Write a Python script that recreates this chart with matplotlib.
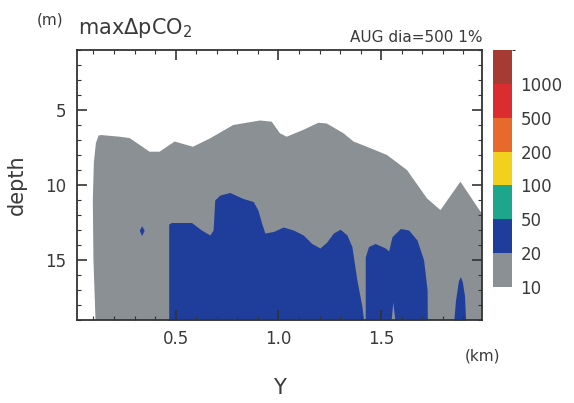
import numpy as np
import matplotlib
matplotlib.use("Agg")
import matplotlib.pyplot as plt
from matplotlib.colors import ListedColormap, BoundaryNorm
from matplotlib.cm import ScalarMappable
from matplotlib.ticker import MultipleLocator

# ---- data ----
# colour levels of max dpCO2
levels = [10, 20, 50, 100, 200, 500, 1000, 2000]
level_colors = ["#8b9095", "#1f3e9c", "#1ca68c", "#f2d01e", "#e76a2c", "#db2c30", "#a63b33"]
cbar_ticks = [10, 20, 50, 100, 200, 500, 1000]

# gray (10-20) region outline: left edge (bottom -> top) then top boundary
gray_left_y = [0.110, 0.100, 0.097, 0.102, 0.112, 0.125]
gray_left_d = [19.0, 15.0, 11.0, 8.5, 7.2, 6.7]
gray_top_y = [0.137, 0.227, 0.276, 0.373, 0.422, 0.495, 0.584, 0.666, 0.780, 0.910,
              0.967, 1.007, 1.040, 1.120, 1.194, 1.235, 1.316, 1.365, 1.430, 1.528,
              1.625, 1.723, 1.788, 1.885, 1.983, 1.990]
gray_top_d = [6.67, 6.78, 6.87, 7.78, 7.78, 7.10, 7.45, 6.90, 6.00, 5.70,
              5.78, 6.55, 6.78, 6.33, 5.85, 5.90, 6.55, 7.10, 7.45, 8.00,
              9.00, 10.90, 11.67, 9.78, 11.78, 11.90]

# blue (20-50) blobs: top depth vs Y, extending to bottom
blue1_y = [0.466, 0.479, 0.577, 0.625, 0.666, 0.682, 0.690, 0.715, 0.763, 0.828,
           0.877, 0.900, 0.918, 0.934, 0.975, 1.023, 1.072, 1.120, 1.162, 1.202,
           1.235, 1.267, 1.300, 1.333, 1.357, 1.381, 1.406, 1.414]
blue1_d = [12.6, 12.5, 12.5, 13.0, 13.33, 13.0, 11.0, 10.67, 10.5, 10.9,
           11.1, 11.67, 12.55, 13.2, 13.1, 12.8, 13.0, 13.33, 13.9, 14.2,
           13.8, 13.2, 12.95, 13.33, 14.1, 16.3, 18.1, 19.0]
blue2_y = [1.422, 1.438, 1.470, 1.520, 1.536, 1.552, 1.593, 1.633, 1.674, 1.706, 1.723, 1.724]
blue2_d = [14.8, 14.1, 13.9, 14.2, 14.4, 13.45, 12.9, 13.0, 13.67, 15.0, 17.0, 19.0]
blue3_y = [1.853, 1.861, 1.875, 1.885, 1.895, 1.905, 1.910]
blue3_d = [19.0, 17.7, 16.4, 16.1, 16.5, 17.4, 19.0]
# small blue spot and a gray notch inside blob 2
spot_y = [0.325, 0.337, 0.349, 0.337]
spot_d = [13.05, 12.75, 13.05, 13.4]
notch_y = [1.548, 1.556, 1.566]
notch_d = [19.0, 17.8, 19.0]

x_ticks = [0.5, 1.0, 1.5]
y_ticks = [5, 10, 15]
x_lim = (0.02, 1.99)
y_lim = (19, 1)

# ---- figure ----
plt.rcParams['font.family'] = ['DejaVu Sans']
txt = "#3a3a3a"
fig = plt.figure(figsize=(5.74, 4.03), dpi=100)
ax = fig.add_axes([77/574, 1 - 320/403, 405/574, 270/403])

gray_poly_y = gray_left_y + gray_top_y + [x_lim[1]]
gray_poly_d = gray_left_d + gray_top_d + [19.0]
ax.fill(gray_poly_y, gray_poly_d, color=level_colors[0], lw=0)
bottom = y_lim[0]
for yy, dd in [(blue1_y, blue1_d), (blue2_y, blue2_d), (blue3_y, blue3_d)]:
    ax.fill_between(yy, dd, bottom, color=level_colors[1], lw=0)
ax.fill(spot_y, spot_d, color=level_colors[1], lw=0)
ax.fill_between(notch_y, notch_d, bottom, color=level_colors[0], lw=0)

ax.set_xlim(*x_lim)
ax.set_ylim(*y_lim)
ax.set_xticks(x_ticks)
ax.set_xticklabels([f"{v:.1f}" for v in x_ticks])
ax.set_yticks(y_ticks)
ax.xaxis.set_minor_locator(MultipleLocator(0.1))
ax.yaxis.set_minor_locator(MultipleLocator(1))
ax.tick_params(which='both', direction='in', top=True, right=True, colors="#333333",
               labelcolor=txt, labelsize=12)
ax.tick_params(which='major', length=7, width=1.2)
ax.tick_params(which='minor', length=3, width=0.8)
ax.tick_params(axis='y', pad=8)
ax.tick_params(axis='x', pad=7)
for s in ax.spines.values():
    s.set_color("#333333")
    s.set_linewidth(1.3)

fig.text(17/574, 1 - 185/403, "depth", rotation=90, ha='center', va='center',
         fontsize=15, color=txt)
fig.text(279/574, 1 - 388/403, "Y", ha='center', va='center', fontsize=15, color=txt)
fig.text(482/574, 1 - 356/403, "(km)", ha='center', va='center', fontsize=11, color=txt)
fig.text(50/574, 1 - 20/403, "(m)", ha='center', va='center', fontsize=11, color=txt)
fig.text(78/574, 1 - 34/403, r"max$\Delta$pCO$_2$", ha='left', va='baseline',
         fontsize=15, color=txt)
fig.text(482/574, 1 - 42/403, "AUG dia=500 1%", ha='right', va='baseline',
         fontsize=11, color=txt)

# ---- colorbar ----
cax = fig.add_axes([493/574, 1 - 287/403, 19/574, 237/403])
cmap = ListedColormap(level_colors)
norm = BoundaryNorm(levels, cmap.N)
cb = fig.colorbar(ScalarMappable(norm=norm, cmap=cmap), cax=cax, spacing='uniform',
                  ticks=cbar_ticks)
cb.outline.set_visible(False)
cb.ax.tick_params(length=0, labelsize=12, labelcolor=txt, pad=6)

fig.savefig("out.png", dpi=100)
